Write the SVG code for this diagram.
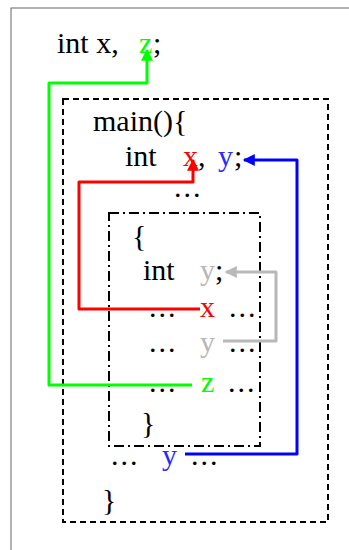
<svg xmlns="http://www.w3.org/2000/svg" width="349" height="550" viewBox="0 0 349 550">
  <style>
    text { font-family: "Liberation Serif", "Times New Roman", serif; font-size: 30px; fill: #000; }
    .r { fill: #ff0000; }
    .g { fill: #00ff00; }
    .b { fill: #2a2aff; }
    .l { fill: #b8b8b8; }
    .dots { letter-spacing: 2px; }
    .wire { fill: none; stroke-width: 3; stroke-linejoin: round; }
  </style>
  <defs>
    <marker id="ahR" viewBox="0 0 10 10" refX="9" refY="5" markerWidth="4.3" markerHeight="4" orient="auto" markerUnits="strokeWidth">
      <path d="M0,0 L10,5 L0,10 z" fill="#ff0000"/>
    </marker>
    <marker id="ahG" viewBox="0 0 10 10" refX="9" refY="5" markerWidth="4.3" markerHeight="4" orient="auto" markerUnits="strokeWidth">
      <path d="M0,0 L10,5 L0,10 z" fill="#00ff00"/>
    </marker>
    <marker id="ahB" viewBox="0 0 10 10" refX="9" refY="5" markerWidth="4.3" markerHeight="4" orient="auto" markerUnits="strokeWidth">
      <path d="M0,0 L10,5 L0,10 z" fill="#0000ff"/>
    </marker>
    <marker id="ahL" viewBox="0 0 10 10" refX="9" refY="5" markerWidth="4.3" markerHeight="4" orient="auto" markerUnits="strokeWidth">
      <path d="M0,0 L10,5 L0,10 z" fill="#b8b8b8"/>
    </marker>
  </defs>

  <rect width="349" height="550" fill="#fff"/>
  <!-- outer frame, open to the right and bottom edges -->
  <rect x="11" y="8" width="360" height="570" fill="none" stroke="#666" stroke-width="1"/>

  <!-- global scope -->
  <g id="global">
    <text x="57" y="53">int x,</text>
    <text x="139" y="53" class="g">z</text>
    <text x="153" y="53">;</text>
  </g>

  <!-- main scope -->
  <g id="main-scope">
    <rect x="63" y="99" width="265" height="423" fill="none" stroke="#000" stroke-width="2" stroke-dasharray="6 4"/>
    <text x="93" y="131">main(){</text>
    <text x="125" y="166">int</text>
    <text x="183" y="166" class="r">x</text>
    <text x="198" y="166">,</text>
    <text x="218" y="166" class="b">y</text>
    <text x="234" y="166">;</text>
    <text x="174" y="197" class="dots">...</text>
    <text x="111" y="465" class="dots">...</text>
    <text x="162" y="465" class="b">y</text>
    <text x="191" y="465" class="dots">...</text>
    <text x="102" y="510">}</text>
  </g>

  <!-- inner block scope -->
  <g id="block-scope">
    <rect x="109" y="213" width="151" height="233" fill="none" stroke="#000" stroke-width="2" stroke-dasharray="10 4 2 4"/>
    <text x="132" y="246">{</text>
    <text x="143" y="280">int</text>
    <text x="200" y="280" class="l">y</text>
    <text x="215" y="280">;</text>
    <text x="149" y="317" class="dots">...</text>
    <text x="200" y="317" class="r">x</text>
    <text x="229" y="317" class="dots">...</text>
    <text x="149" y="352" class="dots">...</text>
    <text x="200" y="352" class="l">y</text>
    <text x="229" y="352" class="dots">...</text>
    <text x="149" y="392" class="dots">...</text>
    <text x="201" y="392" class="g">z</text>
    <text x="228" y="392" class="dots">...</text>
    <text x="141" y="433">}</text>
  </g>

  <!-- binding connectors -->
  <g id="connectors">
    <path class="wire" stroke="#00ff00" d="M192,385 H49 V83 H147 V50" marker-end="url(#ahG)"/>
    <path class="wire" stroke="#ff0000" d="M200,309 H79 V182 H193 V160" marker-end="url(#ahR)"/>
    <path class="wire" stroke="#0000ff" d="M185,454 H297 V160 H244" marker-end="url(#ahB)"/>
    <path class="wire" stroke="#b8b8b8" d="M223,341 H276 V272 H226" marker-end="url(#ahL)"/>
  </g>
</svg>
